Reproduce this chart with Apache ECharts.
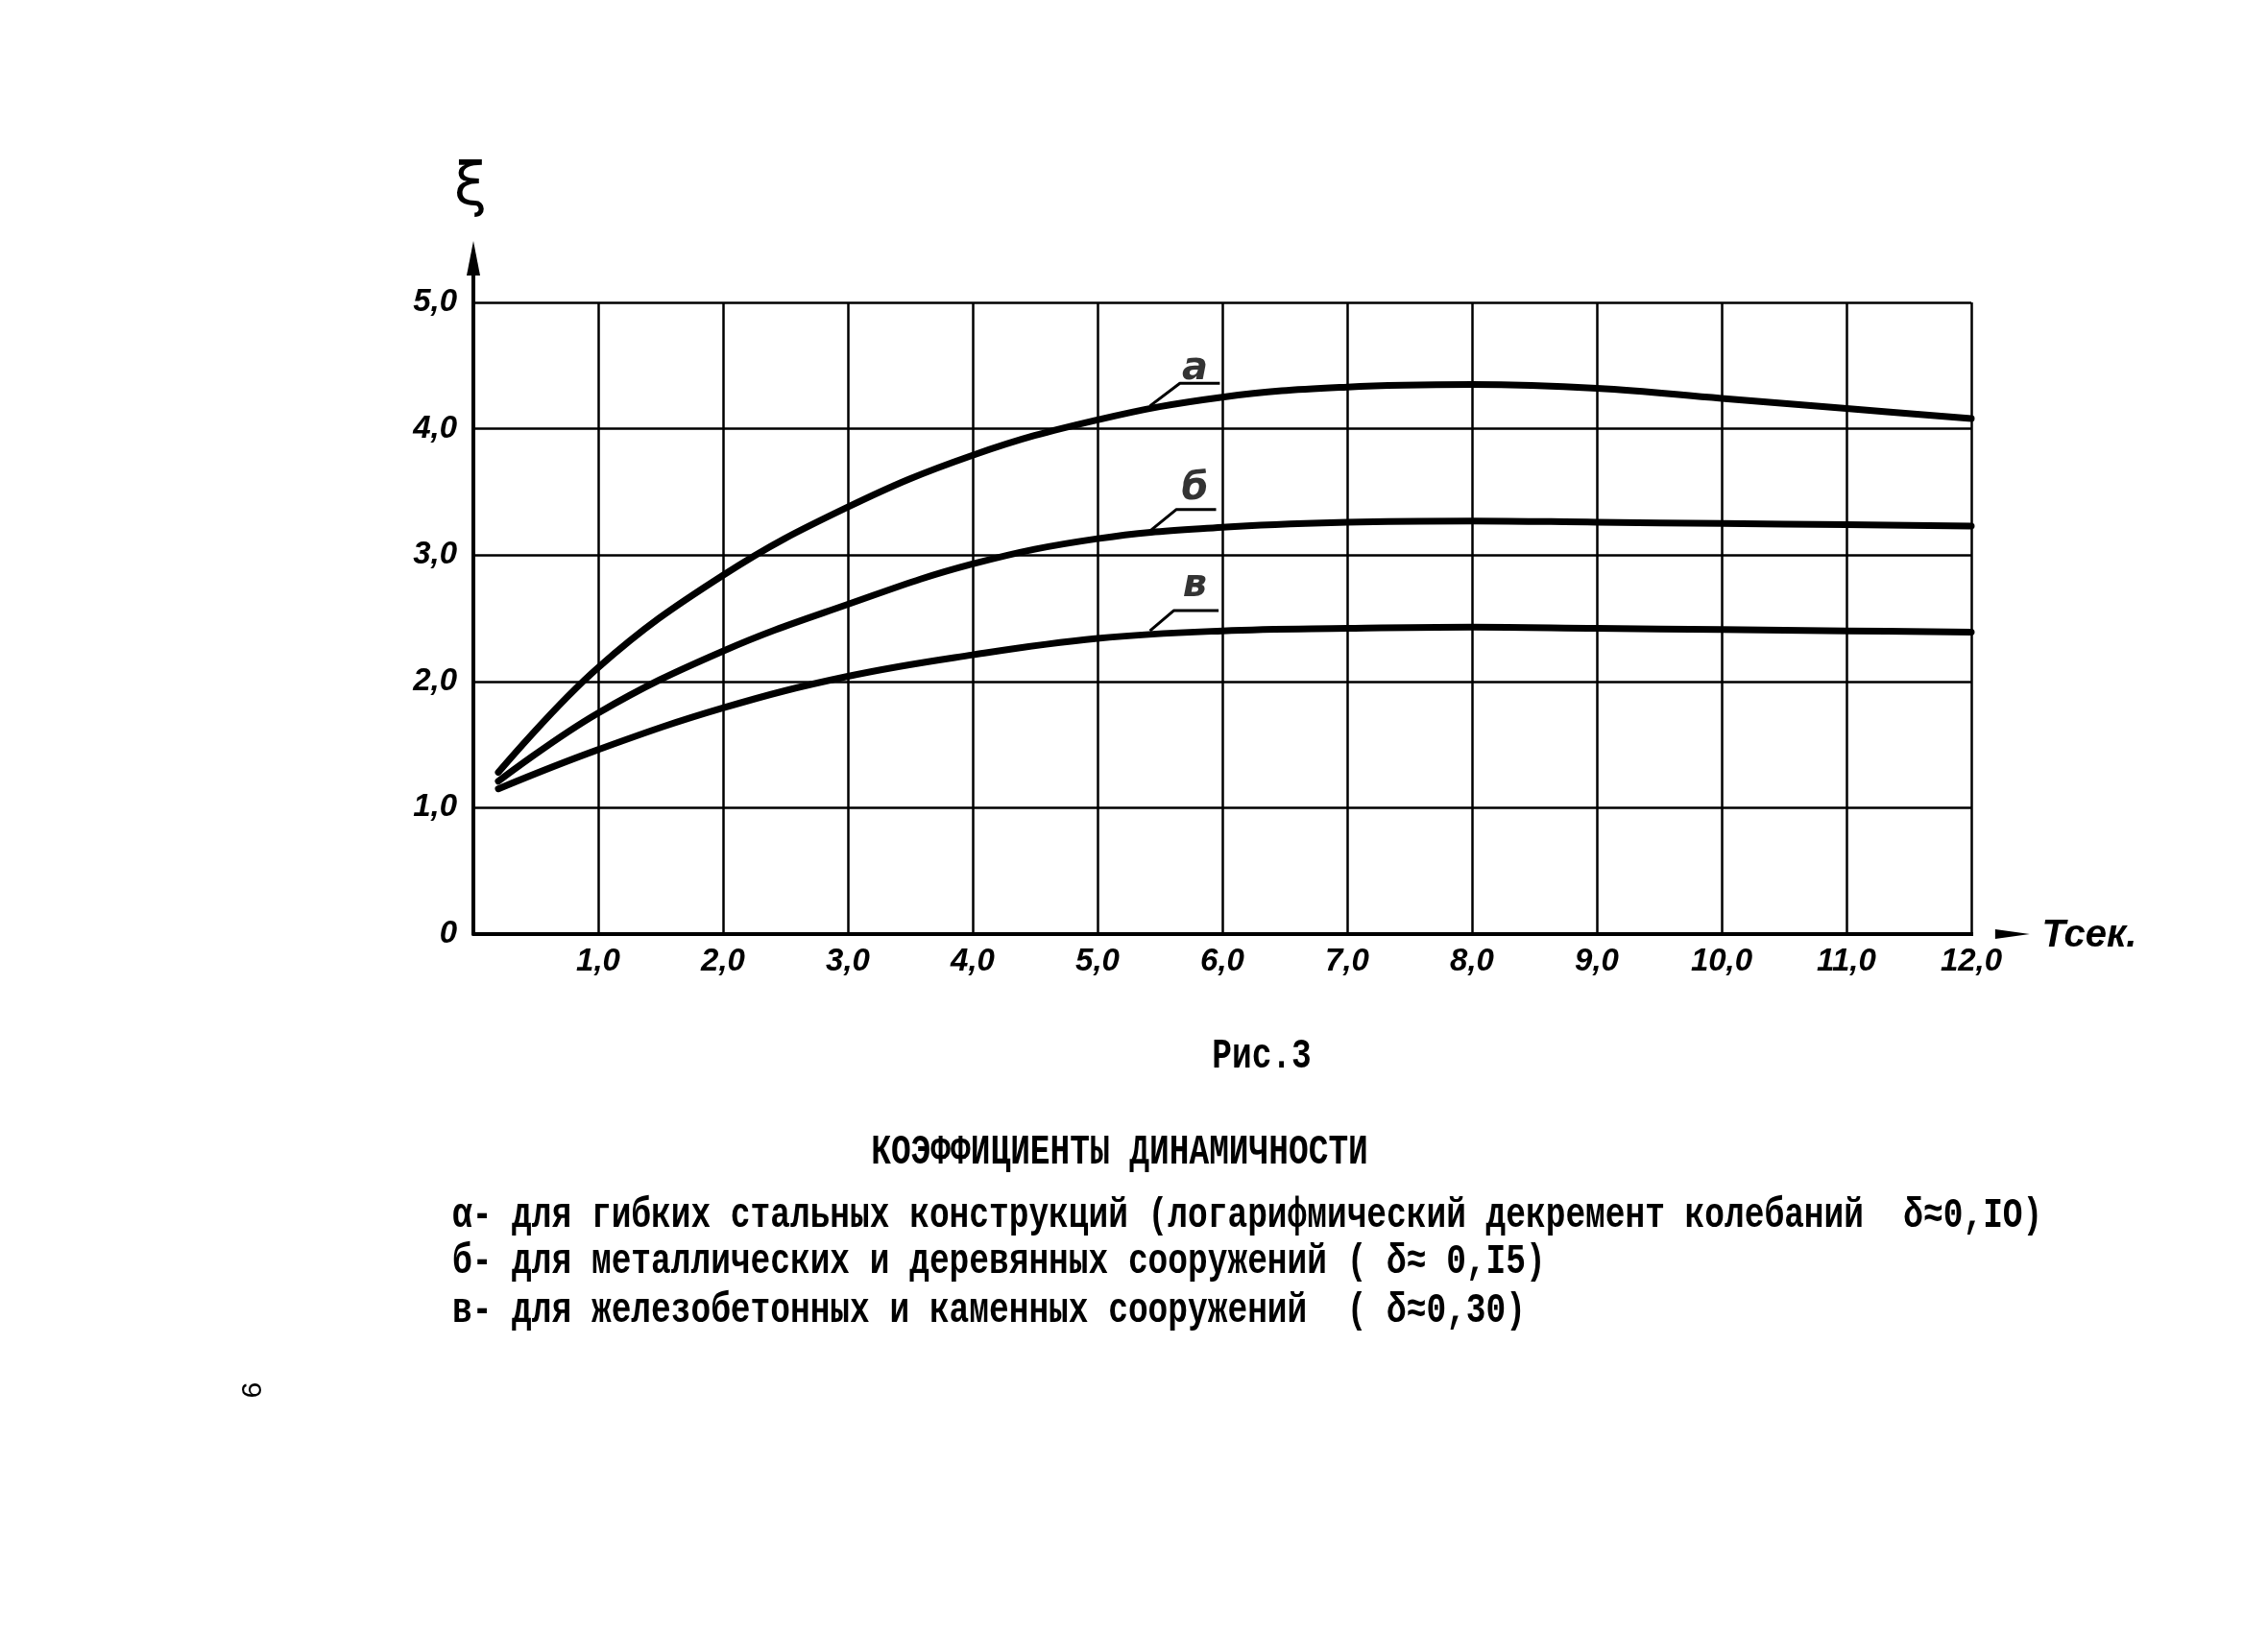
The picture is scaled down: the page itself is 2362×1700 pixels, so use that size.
<!DOCTYPE html>
<html>
<head>
<meta charset="utf-8">
<script src="https://cdn.jsdelivr.net/npm/echarts@6/dist/echarts.min.js"></script>
<style>
html,body{margin:0;padding:0;background:#fff;}
#chart{width:2362px;height:1700px;}
</style>
</head>
<body>
<div id="chart"></div>
<script>
// ---- data ----
const periods = [0.2, 1.0, 2.0, 3.0, 4.0, 5.0, 6.0, 7.0, 8.0, 9.0, 10.0, 11.0, 12.0];
const curveA  = [1.28, 2.11, 2.84, 3.38, 3.79, 4.07, 4.25, 4.33, 4.35, 4.32, 4.24, 4.16, 4.08];
const curveB  = [1.21, 1.75, 2.24, 2.61, 2.93, 3.13, 3.22, 3.26, 3.27, 3.26, 3.25, 3.24, 3.23];
const curveV  = [1.15, 1.46, 1.79, 2.04, 2.21, 2.34, 2.40, 2.42, 2.43, 2.42, 2.41, 2.40, 2.39];
const curveNames = ['а', 'б', 'в'];
const leaderA = [[5.42, 4.18], [5.66, 4.36], [5.98, 4.36]];
const leaderB = [[5.42, 3.19], [5.63, 3.36], [5.95, 3.36]];
const leaderV = [[5.42, 2.40], [5.61, 2.56], [5.97, 2.56]];
const labelPos = [[5.78, 4.47], [5.78, 3.52], [5.78, 2.75]];
const yAxisTop = 5.35;   // axis arrow extension (value units)
const xAxisEnd = 12.33;
const figCaption = 'Рис.3';
const figTitle = 'КОЭФФИЦИЕНТЫ ДИНАМИЧНОСТИ';
const legendLines = [
  'α- для гибких стальных конструкций (логарифмический декремент колебаний  δ≈0,IO)',
  'б- для металлических и деревянных сооружений ( δ≈ 0,I5)',
  'в- для железобетонных и каменных сооружений  ( δ≈0,30)'
];
const pageNumber = '9';

// ---- build ----
const zip = (xs, ys) => xs.map((x, i) => [x, ys[i]]);
const fmt = v => v === 0 ? '0' : v.toFixed(1).replace('.', ',');

const curveSeries = [curveA, curveB, curveV].map((ys, i) => ({
  name: curveNames[i],
  type: 'line',
  data: zip(periods, ys),
  smooth: 0.4,
  symbol: 'none',
  lineStyle: {color: '#000', width: 7, cap: 'round', join: 'round'},
  z: 5
}));

const leaderSeries = [leaderA, leaderB, leaderV].map(d => ({
  type: 'line', data: d, symbol: 'none', smooth: false, clip: false,
  lineStyle: {color: '#000', width: 3}, z: 6
}));

const labelSeries = {
  type: 'scatter',
  data: labelPos.map((p, i) => ({value: p, name: curveNames[i]})),
  symbolSize: 0,
  clip: false,
  label: {
    show: true, position: 'inside', formatter: '{b}',
    fontFamily: 'DejaVu Sans', fontStyle: 'italic', fontWeight: 'bold',
    fontSize: 40, color: '#000'
  },
  z: 7
};

const arrowSeries = [
  {
    type: 'line', clip: false, z: 4,
    data: [{value: [0, 0], symbol: 'none'}, {value: [0, yAxisTop], symbol: 'triangle', symbolSize: [14, 36]}],
    lineStyle: {color: '#000', width: 4}, itemStyle: {color: '#000'}
  },
  {
    type: 'line', clip: false, z: 4,
    data: [{value: [0, 0], symbol: 'none'}, {value: [xAxisEnd, 0], symbol: 'triangle', symbolSize: [10, 36], symbolRotate: -90}],
    lineStyle: {color: '#000', width: 4}, itemStyle: {color: '#000'}
  }
];

const monoFont = 'bold 34.5px "Liberation Mono", "DejaVu Sans Mono", monospace';
const graphics = [
  {type: 'text', x: 490, y: 197, style: {text: 'ξ', font: '62px "DejaVu Sans", sans-serif', fill: '#000', align: 'center', verticalAlign: 'middle'}},
  {type: 'text', x: 2176, y: 975, style: {text: 'Тсек.', font: 'italic bold 40px "Liberation Sans", sans-serif', fill: '#000', align: 'center', verticalAlign: 'middle'}},
  {type: 'text', x: 1314, y: 1101, scaleY: 1.3, style: {text: figCaption, font: monoFont, fill: '#000', align: 'center', verticalAlign: 'middle'}},
  {type: 'text', x: 1166, y: 1201, scaleY: 1.3, style: {text: figTitle, font: monoFont, fill: '#000', align: 'center', verticalAlign: 'middle'}},
  {type: 'text', x: 260, y: 1448, rotation: -Math.PI / 2, style: {text: pageNumber, font: '30px "Liberation Mono", monospace', fill: '#000', align: 'center', verticalAlign: 'middle'}}
];
const legendY = [1267, 1315, 1366];
legendLines.forEach((t, i) => graphics.push({
  type: 'text', x: 471, y: legendY[i], scaleY: 1.3,
  style: {text: t, font: monoFont, fill: '#000', align: 'left', verticalAlign: 'middle'}
}));

const axisCommon = {
  type: 'value',
  interval: 1,
  axisLine: {show: true, lineStyle: {color: '#000', width: 4}},
  axisTick: {show: false},
  splitLine: {show: true, lineStyle: {color: '#000', width: 2.5}},
  axisLabel: {color: '#000', fontFamily: '"Liberation Sans", sans-serif', fontStyle: 'italic', fontWeight: 'bold', fontSize: 33}
};

const option = {
  backgroundColor: '#fff',
  animation: false,
  grid: {left: 493, right: 309, top: 315, bottom: 727, containLabel: false},
  xAxis: Object.assign({}, axisCommon, {
    min: 0, max: 12,
    axisLabel: Object.assign({}, axisCommon.axisLabel, {margin: 12, formatter: v => v === 0 ? '' : fmt(v)})
  }),
  yAxis: Object.assign({}, axisCommon, {
    min: 0, max: 5,
    axisLabel: Object.assign({}, axisCommon.axisLabel, {margin: 17, formatter: fmt})
  }),
  series: [...curveSeries, ...leaderSeries, labelSeries, ...arrowSeries],
  graphic: graphics
};

const chart = echarts.init(document.getElementById('chart'), null, {renderer: 'canvas'});
chart.setOption(option);
</script>
</body>
</html>
